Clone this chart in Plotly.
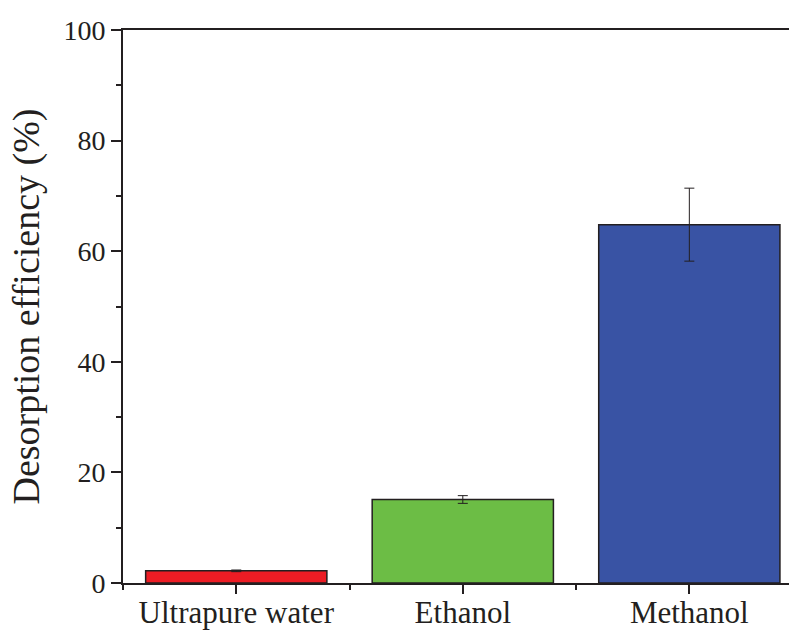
import plotly.graph_objects as go

categories = ["Ultrapure water", "Ethanol", "Methanol"]
values = [2.2, 15.1, 64.8]
errors = [0.15, 0.7, 6.6]
colors = ["#ED1C24", "#6CBD45", "#3953A4"]
y_ticks = [0, 20, 40, 60, 80, 100]

xpos = list(range(len(categories)))

fig = go.Figure()
fig.add_trace(go.Bar(
    x=xpos, y=values, width=0.8,
    marker=dict(color=colors, line=dict(color="#231F20", width=1.5)),
    error_y=dict(type="data", array=errors, visible=True, color="#231F20",
                 thickness=1, width=5),
    showlegend=False,
))

font = "Liberation Serif, Times New Roman, serif"
fig.update_layout(
    width=789, height=630,
    margin=dict(l=123, r=0, t=30, b=47),
    plot_bgcolor="white", paper_bgcolor="white",
    font=dict(family=font, color="#231F20", size=28),
)
fig.update_xaxes(
    range=[-0.5, 2.44], tickvals=xpos, ticktext=categories,
    showgrid=False, zeroline=False, automargin=False,
    showline=True, linecolor="#231F20", linewidth=2, mirror=True,
    ticks="outside", ticklen=9, tickwidth=2, tickcolor="#231F20",
    tickfont=dict(size=31), ticklabelstandoff=-8,
    minor=dict(tick0=0.5, dtick=1, ticks="outside", ticklen=5, tickwidth=2, tickcolor="#231F20"),
)
fig.update_yaxes(
    range=[0, 100], tickvals=y_ticks,
    showgrid=False, zeroline=False, automargin=False,
    showline=True, linecolor="#231F20", linewidth=2, mirror=False,
    ticks="outside", ticklen=10, tickwidth=2, tickcolor="#231F20",
    tickfont=dict(size=28),
    minor=dict(tick0=10, dtick=20, ticks="outside", ticklen=5, tickwidth=2, tickcolor="#231F20"),
    title=dict(text="Desorption efficiency (%)", font=dict(size=38), standoff=12),
)

fig.write_html("out.html")
